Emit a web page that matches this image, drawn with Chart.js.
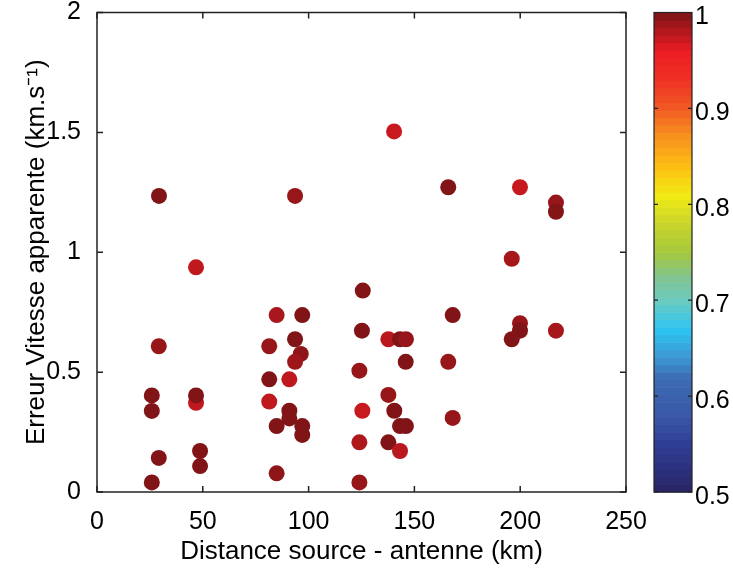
<!DOCTYPE html>
<html>
<head>
<meta charset="utf-8">
<script src="https://cdn.jsdelivr.net/npm/chart.js@4"></script>
<style>
  html, body { margin: 0; padding: 0; background: #fff; }
  #wrap { width: 733px; height: 568px; position: relative; }
</style>
</head>
<body>
<div id="wrap"><canvas id="scatterChart"></canvas></div>
<script>
// distance source - antenne (km)
const distance = [
    29.3, 46.8, 93.6, 125.6, 140.4, 166.0, 199.9, 216.9, 216.9, 196.0,
    84.9, 97.0, 29.2, 93.6, 81.4, 96.3, 93.6, 125.2, 124.0, 81.4,
    90.9, 25.9, 46.8, 46.8, 25.9, 81.4, 90.9, 90.9, 84.9, 97.0,
    97.0, 125.4, 124.0, 29.2, 48.7, 48.7, 84.9, 25.9, 124.0, 168.1,
    137.7, 143.2, 146.0, 145.9, 166.0, 199.9, 199.9, 196.0, 216.9, 137.7,
    140.5, 143.2, 146.0, 168.1, 137.7, 143.2
];
// erreur vitesse apparente (km/s)
const erreur = [
    1.235, 0.937, 1.235, 0.840, 1.504, 1.271, 1.271, 1.207, 1.169, 0.973,
    0.738, 0.738, 0.608, 0.637, 0.608, 0.576, 0.543, 0.673, 0.506, 0.470,
    0.470, 0.403, 0.372, 0.403, 0.338, 0.377, 0.339, 0.307, 0.275, 0.275,
    0.238, 0.339, 0.207, 0.142, 0.171, 0.108, 0.078, 0.040, 0.040, 0.738,
    0.637, 0.637, 0.637, 0.543, 0.543, 0.704, 0.673, 0.637, 0.673, 0.405,
    0.339, 0.275, 0.275, 0.309, 0.207, 0.171
];
// colour value (colorbar 0.5 - 1)
const valeur = [
    0.998, 0.976, 0.990, 0.997, 0.973, 0.998, 0.974, 0.990, 0.997, 0.985,
    0.984, 0.998, 0.990, 0.998, 0.990, 0.993, 0.988, 0.998, 0.990, 0.998,
    0.976, 0.998, 0.976, 0.998, 0.998, 0.976, 0.998, 0.998, 0.998, 0.998,
    0.998, 0.973, 0.982, 0.998, 0.998, 0.998, 0.993, 0.998, 0.990, 0.998,
    0.978, 0.998, 0.990, 0.998, 0.990, 0.990, 0.998, 0.998, 0.985, 0.990,
    0.998, 0.998, 0.998, 0.990, 0.998, 0.978
];
const xTicks = [0, 50, 100, 150, 200, 250];
const yTicks = [0, 0.5, 1, 1.5, 2];
const cbTicks = [0.5, 0.6, 0.7, 0.8, 0.9, 1];

// jet-like colormap as printed in the figure
const cmapStops = [
    [0.50, [40, 37, 101]],
    [0.55, [47, 61, 149]],
    [0.58, [58, 88, 167]],
    [0.62, [60, 109, 180]],
    [0.64, [61, 151, 211]],
    [0.67, [45, 197, 242]],
    [0.70, [108, 203, 192]],
    [0.72, [125, 196, 155]],
    [0.75, [165, 200, 60]],
    [0.78, [201, 213, 43]],
    [0.81, [242, 235, 20]],
    [0.84, [253, 190, 20]],
    [0.87, [247, 148, 29]],
    [0.90, [241, 90, 36]],
    [0.93, [238, 49, 36]],
    [0.96, [237, 28, 36]],
    [1.00, [122, 20, 22]]
];

function cmap(v) {
    if (v <= cmapStops[0][0]) return 'rgb(' + cmapStops[0][1].join(',') + ')';
    for (let i = 1; i < cmapStops.length; i++) {
        const [v1, c1] = cmapStops[i];
        const [v0, c0] = cmapStops[i - 1];
        if (v <= v1) {
            const t = (v - v0) / (v1 - v0);
            const c = c0.map((a, k) => Math.round(a + (c1[k] - a) * t));
            return 'rgb(' + c.join(',') + ')';
        }
    }
    return 'rgb(' + cmapStops[cmapStops.length - 1][1].join(',') + ')';
}

const fontFamily = '"Liberation Sans", Arial, Helvetica, sans-serif';
const fmt = v => String(+v.toFixed(2));

// fixed axis sizes, no extra label padding around the plot box
function fixSize(w, h) {
    return s => {
        if (w !== null) s.width = w;
        if (h !== null) s.height = h;
        s.paddingTop = 0; s.paddingBottom = 0;
        s.paddingLeft = 0; s.paddingRight = 0;
    };
}

// matlab style box, inward ticks and the colorbar
const matlabFrame = {
    id: 'matlabFrame',
    afterDraw(chart) {
        const ctx = chart.ctx;
        const a = chart.chartArea;
        const xs = chart.scales.x, ys = chart.scales.y, cb = chart.scales.cb;
        ctx.save();
        ctx.strokeStyle = '#222';
        ctx.lineWidth = 1.5;
        ctx.strokeRect(a.left, a.top, a.right - a.left, a.bottom - a.top);
        ctx.beginPath();
        const tl = 6;
        xTicks.forEach(t => {
            const px = xs.getPixelForValue(t);
            ctx.moveTo(px, a.bottom); ctx.lineTo(px, a.bottom - tl);
            ctx.moveTo(px, a.top); ctx.lineTo(px, a.top + tl);
        });
        yTicks.forEach(t => {
            const py = ys.getPixelForValue(t);
            ctx.moveTo(a.left, py); ctx.lineTo(a.left + tl, py);
            ctx.moveTo(a.right, py); ctx.lineTo(a.right - tl, py);
        });
        ctx.stroke();

        // colorbar
        const cbL = cb.left + 28, cbR = cb.left + 66;
        const n = 64, step = 0.5 / n;
        for (let k = 0; k < n; k++) {
            const v0 = 0.5 + k * step;
            const y0 = cb.getPixelForValue(v0);
            const y1 = cb.getPixelForValue(v0 + step);
            ctx.fillStyle = cmap(v0 + step / 2);
            ctx.fillRect(cbL, y1, cbR - cbL, y0 - y1 + 0.6);
        }
        ctx.lineWidth = 1.2;
        ctx.strokeStyle = '#222';
        ctx.strokeRect(cbL, cb.top, cbR - cbL, cb.bottom - cb.top);
        ctx.beginPath();
        cbTicks.forEach(t => {
            const py = cb.getPixelForValue(t);
            ctx.moveTo(cbL, py); ctx.lineTo(cbL + 4, py);
            ctx.moveTo(cbR, py); ctx.lineTo(cbR - 4, py);
        });
        ctx.stroke();
        ctx.restore();
    }
};

const ctx = document.getElementById('scatterChart').getContext('2d');
new Chart(ctx, {
    type: 'scatter',
    data: {
        datasets: [{
            label: 'Erreur',
            data: distance.map((d, i) => ({ x: d, y: erreur[i] })),
            backgroundColor: valeur.map(cmap),
            borderWidth: 0,
            pointRadius: 8,
            pointHoverRadius: 8,
            xAxisID: 'x',
            yAxisID: 'y'
        }]
    },
    options: {
        responsive: true,
        maintainAspectRatio: false,
        animation: false,
        layout: { padding: { top: 12.5, left: 0, right: 0, bottom: 0 } },
        plugins: { legend: { display: false }, tooltip: { enabled: false } },
        scales: {
            x: {
                type: 'linear',
                min: 0,
                max: 250,
                afterBuildTicks: s => { s.ticks = xTicks.map(v => ({ value: v })); },
                afterFit: fixSize(null, 76),
                grid: { display: false },
                border: { display: false },
                ticks: { font: { family: fontFamily, size: 25 }, color: '#000', padding: 7, callback: fmt },
                title: {
                    display: true,
                    text: 'Distance source - antenne (km)',
                    font: { family: fontFamily, size: 26 },
                    color: '#000',
                    padding: { top: 0, bottom: 1 }
                }
            },
            y: {
                type: 'linear',
                position: 'left',
                min: 0,
                max: 2,
                afterBuildTicks: s => { s.ticks = yTicks.map(v => ({ value: v })); },
                afterFit: fixSize(97, null),
                grid: { display: false },
                border: { display: false },
                ticks: { font: { family: fontFamily, size: 25 }, color: '#000', padding: 8, callback: fmt },
                title: {
                    display: true,
                    text: 'Erreur Vitesse apparente (km.s\u207B\u00B9)',
                    font: { family: fontFamily, size: 26 },
                    color: '#000',
                    padding: { top: 21, bottom: 0 }
                }
            },
            cb: {
                type: 'linear',
                position: 'right',
                min: 0.5,
                max: 1,
                afterBuildTicks: s => { s.ticks = cbTicks.map(v => ({ value: v })); },
                afterFit: fixSize(107, null),
                grid: { display: false },
                border: { display: false },
                ticks: { font: { family: fontFamily, size: 25 }, color: '#000', padding: 61, labelOffset: 5, callback: fmt }
            }
        }
    },
    plugins: [matlabFrame]
});
</script>
</body>
</html>
